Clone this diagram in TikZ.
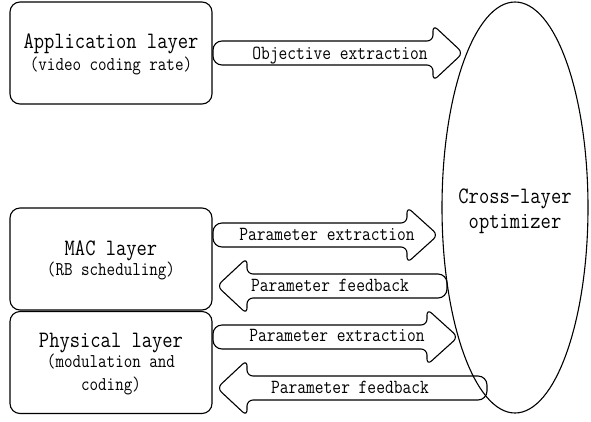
\documentclass[tikz,border=0pt]{standalone}
\usepackage{fontspec}
\setmonofont{Latin Modern Mono}[FakeStretch=0.85]
\usetikzlibrary{shapes.geometric}

\tikzset{
  layerbox/.style={draw, line width=1.1pt, rounded corners=10pt, inner sep=0pt, outer sep=0pt,
                   minimum width=202pt, minimum height=102pt},
  blockarrow/.style={draw, fill=white, line width=1.1pt, rounded corners=6pt},
  bigtext/.style={anchor=base, inner sep=0pt, font=\ttfamily\fontsize{23.5}{26}\selectfont},
  smalltext/.style={anchor=base, inner sep=0pt, font=\ttfamily\fontsize{19.5}{22}\selectfont},
  arrowtext/.style={anchor=base, inner sep=0pt, font=\ttfamily\fontsize{20}{22}\selectfont},
}

% block arrow pointing right: left end, head base, tip, centre line
\newcommand{\blockright}[4]{%
  \path[blockarrow] (#2,#4-12) [rounded corners=9pt] -- (#1,#4-12) -- (#1,#4+12)
    [rounded corners=6pt] -- (#2,#4+12) -- (#2,#4+28) -- (#3,#4) -- (#2,#4-28) -- cycle;}
% block arrow pointing left: right end, head base, tip, centre line
\newcommand{\blockleft}[4]{%
  \path[blockarrow] (#2,#4-12) [rounded corners=9pt] -- (#1,#4-12) -- (#1,#4+12)
    [rounded corners=6pt] -- (#2,#4+12) -- (#2,#4+28) -- (#3,#4) -- (#2,#4-28) -- cycle;}

\begin{document}
\begin{tikzpicture}[x=1pt, y=-1pt]
  \useasboundingbox (0,0) rectangle (591,421);

  % layer boxes
  \node[layerbox] (app) at (111,53) {};
  \node[layerbox] (mac) at (111,259) {};
  \node[layerbox] (phy) at (111,362.5) {};

  \node[bigtext]   (appA) at (111,48)  {Application layer};
  \node[smalltext] (appB) at (111,70)  {(video coding rate)};
  \node[bigtext]   (macA) at (111,255) {MAC layer};
  \node[smalltext] (macB) at (111,275) {(RB scheduling)};
  \node[bigtext]   (phyA) at (111,347) {Physical layer};
  \node[smalltext] (phyB) at (111,367) {(modulation and};
  \node[smalltext] (phyC) at (111,390) {coding)};

  % block arrows between the layers and the optimizer
  \blockright{213}{433}{463}{53}
  \blockright{213}{407}{438}{235}
  \blockleft{447}{247}{217}{286}
  \blockright{213}{427}{458}{337}
  \blockleft{487}{247}{217}{388}

  \node[arrowtext] (obj) at (340,59)  {Objective extraction};
  \node[arrowtext] (pe1) at (327,240) {Parameter extraction};
  \node[arrowtext] (pf1) at (330,291) {Parameter feedback};
  \node[arrowtext] (pe2) at (337,341) {Parameter extraction};
  \node[arrowtext] (pf2) at (350,393) {Parameter feedback};

  % cross-layer optimizer
  \node[draw, ellipse, line width=1.1pt, inner sep=0pt, outer sep=0pt,
        minimum width=146pt, minimum height=411pt] (opt) at (515,207.5) {};
  \node[bigtext] (optA) at (515,203) {Cross-layer};
  \node[bigtext] (optB) at (515,228) {optimizer};
\end{tikzpicture}
\end{document}
